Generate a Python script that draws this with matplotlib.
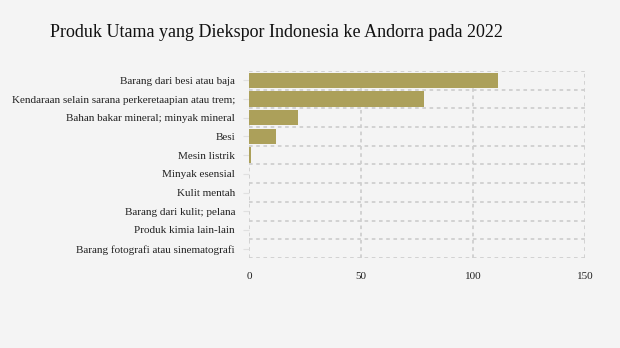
import matplotlib.pyplot as plt
import numpy as np

# Data
produk = ['Barang dari besi atau baja',
          'Kendaraan selain sarana perkeretaapian atau trem;',
          'Bahan bakar mineral; minyak mineral',
          'Besi',
          'Mesin listrik',
          'Minyak esensial',
          'Kulit mentah',
          'Barang dari kulit; pelana',
          'Produk kimia lain-lain',
          'Barang fotografi atau sinematografi']
nilai = [111.2, 78.1, 21.9, 12.0, 1.0, 0.15, 0.1, 0.08, 0.05, 0.03]
xticks = [0, 50, 100, 150]

plt.rcParams['font.family'] = ['Liberation Serif', 'DejaVu Serif']

fig = plt.figure(figsize=(6.2, 3.48), dpi=100)
fig.patch.set_facecolor('#f4f4f4')
ax = fig.add_axes([0.4016, 0.2586, 0.5419, 0.5374])
ax.set_facecolor('#f4f4f4')

y = np.arange(len(produk))
ax.barh(y, nilai, height=0.82, color='#aca05a', zorder=2)

ax.set_xlim(0, 150)
ax.set_ylim(len(produk) - 0.5, -0.5)
ax.set_xticks(xticks)
ax.set_xticklabels([str(t) for t in xticks], fontsize=8)
ax.set_yticks(y)
ax.set_yticklabels(produk, fontsize=8)
ax.set_yticks(np.arange(len(produk) + 1) - 0.5, minor=True)

ax.tick_params(axis='x', length=0, pad=10, colors='#222222')
ax.tick_params(axis='y', which='major', length=4, color='#e0e0e0', pad=6, colors='#222222')
ax.tick_params(axis='y', which='minor', length=0)
ax.tick_params(axis='y', which='major', color='#e0e0e0')

ax.grid(axis='x', which='major', linestyle=(0, (2, 2)), color='#cfcfcf', linewidth=1.3, zorder=0)
ax.grid(axis='y', which='minor', linestyle=(0, (2, 2)), color='#cfcfcf', linewidth=1.3, zorder=0)
ax.grid(axis='y', which='major', visible=False)
for s in ax.spines.values():
    s.set_visible(False)

fig.text(0.081, 0.907, 'Produk Utama yang Diekspor Indonesia ke Andorra pada 2022',
         fontsize=13, color='#111111', va='center', ha='left')

plt.savefig('out.png', dpi=100, facecolor=fig.get_facecolor())
